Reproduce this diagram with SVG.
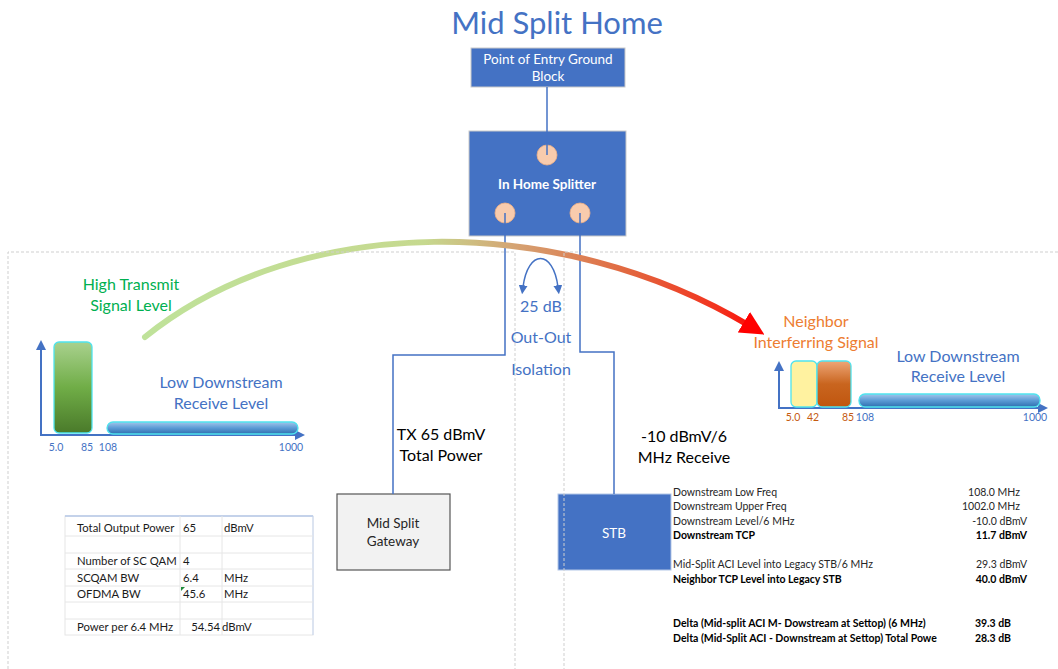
<svg xmlns="http://www.w3.org/2000/svg" width="1058" height="669" viewBox="0 0 1058 669">
<style>
text{font-family:Lato,"Liberation Sans","DejaVu Sans",sans-serif}
.wt{fill:#ffffff;font-size:13.5px}
.lbl{font-size:16px;text-anchor:middle}
.ax{fill:#4472c4;font-size:10.5px;text-anchor:middle}
.axo{fill:#c55a11;font-size:10.5px;text-anchor:middle}
.conn{fill:none;stroke:#4472c4;stroke-width:1.5}
.axis{fill:none;stroke:#4472c4;stroke-width:2}
.dash{fill:none;stroke:#cfcfcf;stroke-width:1;stroke-dasharray:3 2}
.grid{stroke:#e6e6e6;stroke-width:1}
.tb{font-size:10.5px;fill:#262626}
.tbb{font-size:10.5px;fill:#000;font-weight:bold}
.cell{font-size:11.3px;fill:#1a1a1a}
.port{fill:#f8cbad;stroke:#f4b183;stroke-width:0.8}
</style>
<defs>
<linearGradient id="arcGrad" gradientUnits="userSpaceOnUse" x1="145" y1="0" x2="765" y2="0">
<stop offset="0" stop-color="#bfe29a"/>
<stop offset="0.45" stop-color="#c6d98f"/>
<stop offset="0.6" stop-color="#d5a272"/>
<stop offset="0.78" stop-color="#e2673f"/>
<stop offset="0.93" stop-color="#f3301d"/>
<stop offset="1" stop-color="#ff0000"/>
</linearGradient>
<linearGradient id="greenGrad" x1="0" y1="0" x2="0" y2="1">
<stop offset="0" stop-color="#a9d18e"/>
<stop offset="0.5" stop-color="#70ad47"/>
<stop offset="1" stop-color="#4a7a2a"/>
</linearGradient>
<linearGradient id="blueGrad" x1="0" y1="0" x2="0" y2="1">
<stop offset="0" stop-color="#a4c6ea"/>
<stop offset="0.5" stop-color="#5b9bd5"/>
<stop offset="1" stop-color="#2e6fb0"/>
</linearGradient>
<linearGradient id="orangeGrad" x1="0" y1="0" x2="0" y2="1">
<stop offset="0" stop-color="#eea677"/>
<stop offset="0.5" stop-color="#c9651f"/>
<stop offset="1" stop-color="#c0560f"/>
</linearGradient>
<marker id="redHead" markerUnits="userSpaceOnUse" markerWidth="24" markerHeight="24" viewBox="0 0 10 10" refX="3" refY="5" orient="auto">
<path d="M0,0 L10,5 L0,10 z" fill="#ff0000"/>
</marker>
<marker id="blueHead" markerUnits="userSpaceOnUse" markerWidth="9" markerHeight="9" viewBox="0 0 10 10" refX="2" refY="5" orient="auto-start-reverse">
<path d="M0,0 L10,5 L0,10 z" fill="#4472c4"/>
</marker>
<marker id="axHead" markerUnits="userSpaceOnUse" markerWidth="10" markerHeight="10" viewBox="0 0 10 10" refX="2" refY="5" orient="auto">
<path d="M0,0 L10,5 L0,10 z" fill="#4472c4"/>
</marker>
</defs>

<text x="557" y="34" text-anchor="middle" font-size="31" fill="#4472c4">Mid Split Home</text>

<g id="poe">
<rect x="471" y="48" width="154" height="39" fill="#4472c4" stroke="#c9c9c9" stroke-width="1"/>
<text class="wt" x="548" y="64" text-anchor="middle">Point of Entry Ground</text>
<text class="wt" x="548" y="81" text-anchor="middle">Block</text>
</g>

<g id="splitter">
<rect x="469" y="131" width="157" height="105" fill="#4472c4" stroke="#c9c9c9" stroke-width="1"/>
<circle class="port" cx="547" cy="155" r="10"/>
<circle class="port" cx="505" cy="213" r="10"/>
<circle class="port" cx="580" cy="213" r="10"/>
<text class="wt" x="547" y="189" text-anchor="middle" font-weight="bold" font-size="14">In Home Splitter</text>
</g>

<g id="gateway">
<rect x="337" y="494" width="113" height="76" fill="#f2f2f2" stroke="#555555" stroke-width="1.2"/>
<text x="393" y="528" text-anchor="middle" font-size="13.5" fill="#262626">Mid Split</text>
<text x="393" y="546" text-anchor="middle" font-size="13.5" fill="#262626">Gateway</text>
</g>

<g id="stb">
<rect x="558" y="494" width="113" height="76" fill="#4472c4" stroke="#b4c7e7" stroke-width="1"/>
<text class="wt" x="614" y="538" text-anchor="middle">STB</text>
</g>

<g id="connectors">
<line class="conn" x1="547" y1="87" x2="547" y2="155"/>
<polyline class="conn" points="505,213 505,355 393,355 393,494"/>
<polyline class="conn" points="580,213 580,352 614,352 614,494"/>
<path d="M145,337 C300,212 560,212 750,326" fill="none" stroke="url(#arcGrad)" stroke-width="6" stroke-linecap="round" marker-end="url(#redHead)"/>
<path d="M523,287 C528,249 553,249 558,287" class="conn" marker-start="url(#blueHead)" marker-end="url(#blueHead)"/>
</g>

<g id="dashed">
<polyline class="dash" points="8,669 8,252 515,252 515,669"/>
<polyline class="dash" points="1058,252 564,252 564,669"/>
</g>

<g id="labels">
<text class="lbl" x="131" y="290" fill="#00b050">High Transmit</text>
<text class="lbl" x="131" y="311" fill="#00b050">Signal Level</text>
<text class="lbl" x="541" y="312" fill="#4472c4">25 dB</text>
<text class="lbl" x="541" y="343" fill="#4472c4">Out-Out</text>
<text class="lbl" x="541" y="375" fill="#4472c4">Isolation</text>
<text class="lbl" x="816" y="327" fill="#ed7d31">Neighbor</text>
<text class="lbl" x="816" y="348" fill="#ed7d31">Interferring Signal</text>
<text x="441" y="440" text-anchor="middle" font-size="16" fill="#000">TX 65 dBmV</text>
<text x="441" y="461" text-anchor="middle" font-size="16" fill="#000">Total Power</text>
<text x="684" y="442" text-anchor="middle" font-size="16" fill="#000">-10 dBmV/6</text>
<text x="684" y="463" text-anchor="middle" font-size="16" fill="#000">MHz Receive</text>
</g>

<g id="left-chart">
<line class="axis" x1="41" y1="436" x2="41" y2="348" marker-end="url(#axHead)"/>
<line class="axis" x1="40" y1="435" x2="297" y2="435" marker-end="url(#axHead)"/>
<rect x="54" y="342" width="38" height="91" rx="5" fill="url(#greenGrad)" stroke="#4fe3ee" stroke-width="1.3"/>
<rect x="107" y="422" width="191" height="12" rx="6" fill="url(#blueGrad)" stroke="#4fe3ee" stroke-width="1.3"/>
<text class="lbl" x="221" y="388" fill="#4472c4">Low Downstream</text>
<text class="lbl" x="221" y="409" fill="#4472c4">Receive Level</text>
<text class="ax" x="56" y="451">5.0</text>
<text class="ax" x="87" y="451">85</text>
<text class="ax" x="108" y="451">108</text>
<text class="ax" x="291" y="451">1000</text>
</g>

<g id="right-chart">
<line class="axis" x1="779" y1="409" x2="779" y2="369" marker-end="url(#axHead)"/>
<line class="axis" x1="778" y1="408" x2="1040" y2="408" marker-end="url(#axHead)"/>
<rect x="791" y="361" width="26" height="46" rx="5" fill="#fff2a0" stroke="#4fe3ee" stroke-width="1.3"/>
<rect x="817" y="361" width="34" height="46" rx="5" fill="url(#orangeGrad)" stroke="#4fe3ee" stroke-width="1.3"/>
<rect x="859" y="394" width="181" height="13" rx="6" fill="url(#blueGrad)" stroke="#4fe3ee" stroke-width="1.3"/>
<text class="lbl" x="958" y="362" fill="#4472c4">Low Downstream</text>
<text class="lbl" x="958" y="382" fill="#4472c4">Receive Level</text>
<text class="axo" x="793" y="421">5.0</text>
<text class="axo" x="813" y="421">42</text>
<text class="axo" x="848" y="421">85</text>
<text class="ax" x="865" y="421">108</text>
<text class="ax" x="1035" y="421">1000</text>
</g>

<g id="power-table">
<rect x="65" y="516" width="248" height="119" fill="#ffffff" stroke="#e6e6e6" stroke-width="1"/>
<line x1="65" y1="516" x2="313" y2="516" stroke="#b4c7e7" stroke-width="1.5"/>
<line x1="313" y1="516" x2="313" y2="635" stroke="#c5d4ee" stroke-width="1"/>
<line class="grid" x1="180" y1="516" x2="180" y2="635"/>
<line class="grid" x1="222" y1="516" x2="222" y2="635"/>
<line class="grid" x1="65" y1="536" x2="313" y2="536"/>
<line class="grid" x1="65" y1="553" x2="313" y2="553"/>
<line class="grid" x1="65" y1="569" x2="313" y2="569"/>
<line class="grid" x1="65" y1="586" x2="313" y2="586"/>
<line class="grid" x1="65" y1="602" x2="313" y2="602"/>
<line class="grid" x1="65" y1="619" x2="313" y2="619"/>
<text class="cell" x="77" y="532">Total Output Power</text>
<text class="cell" x="183" y="532">65</text>
<text class="cell" x="224" y="532">dBmV</text>
<text class="cell" x="77" y="565">Number of SC QAM</text>
<text class="cell" x="183" y="565">4</text>
<text class="cell" x="77" y="582">SCQAM BW</text>
<text class="cell" x="183" y="582">6.4</text>
<text class="cell" x="224" y="582">MHz</text>
<text class="cell" x="77" y="598">OFDMA BW</text>
<text class="cell" x="183" y="598">45.6</text>
<text class="cell" x="224" y="598">MHz</text>
<path d="M181,587 L185,587 L181,591 z" fill="#1e8c3a"/>
<text class="cell" x="77" y="631">Power per 6.4 MHz</text>
<text class="cell" x="220" y="631" text-anchor="end">54.54</text>
<text class="cell" x="222" y="631">dBmV</text>
</g>

<g id="stb-table">
<text class="tb" x="673" y="496">Downstream Low Freq</text>
<text class="tb" x="1020" y="496" text-anchor="end">108.0 MHz</text>
<text class="tb" x="673" y="510">Downstream Upper Freq</text>
<text class="tb" x="1020" y="510" text-anchor="end">1002.0 MHz</text>
<text class="tb" x="673" y="525">Downstream Level/6 MHz</text>
<text class="tb" x="1027" y="525" text-anchor="end">-10.0 dBmV</text>
<text class="tbb" x="673" y="539">Downstream TCP</text>
<text class="tbb" x="1027" y="539" text-anchor="end">11.7 dBmV</text>
<text class="tb" x="673" y="568">Mid-Split ACI Level into Legacy STB/6 MHz</text>
<text class="tb" x="1027" y="568" text-anchor="end">29.3 dBmV</text>
<text class="tbb" x="673" y="583">Neighbor TCP Level into Legacy STB</text>
<text class="tbb" x="1027" y="583" text-anchor="end">40.0 dBmV</text>
<text class="tbb" x="673" y="627">Delta  (Mid-split ACI M- Dowstream at Settop) (6 MHz)</text>
<text class="tbb" x="1011" y="627" text-anchor="end">39.3 dB</text>
<text class="tbb" x="673" y="642">Delta (Mid-Split ACI - Downstream at Settop) Total Powe</text>
<text class="tbb" x="1011" y="642" text-anchor="end">28.3 dB</text>
</g>
</svg>
